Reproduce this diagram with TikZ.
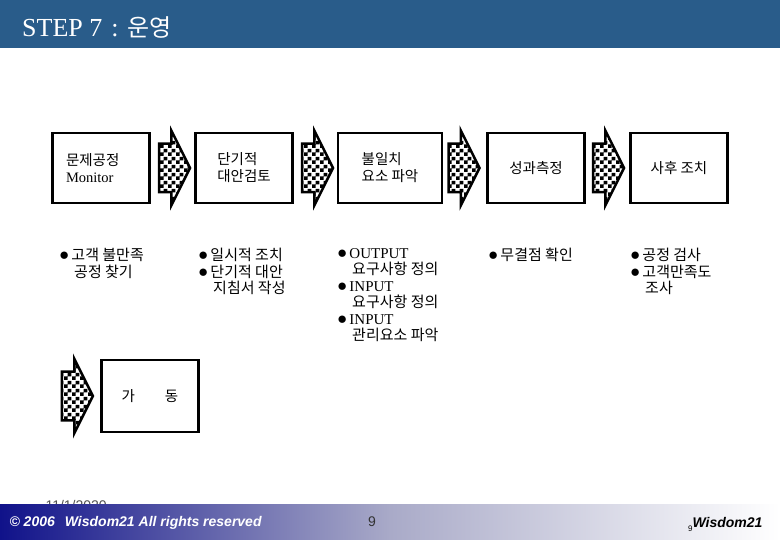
\documentclass[tikz,border=0pt]{standalone}
\usepackage{fontspec}
\setmainfont{Liberation Serif}
\setsansfont{Liberation Sans}
\newfontfamily\kr{Noto Sans CJK KR}
\usetikzlibrary{positioning,shapes.arrows,patterns}
\definecolor{TitleBlue}{HTML}{295C8A}
\definecolor{FootNavy}{HTML}{10128A}
\definecolor{FootMid}{HTML}{A9AAC8}
\definecolor{DateGray}{HTML}{505050}
\definecolor{PageGray}{HTML}{333333}
\pgfdeclarepatternformonly{bigchecker}{\pgfpointorigin}{\pgfqpoint{8pt}{8pt}}{\pgfqpoint{8pt}{8pt}}{
 \pgfpathrectangle{\pgfpointorigin}{\pgfqpoint{4pt}{4pt}}
 \pgfpathrectangle{\pgfqpoint{4pt}{4pt}}{\pgfqpoint{4pt}{4pt}}
 \pgfusepath{fill}}
\newcommand{\notebullet}{{\rmfamily\fontsize{17}{16.5}\selectfont ●}\hspace{2pt}}
\newcommand{\noteindent}{\hspace{15pt}}
\tikzset{
 stepbox/.style={draw=black, line width=2.5pt, minimum width=97pt, minimum height=70pt, align=left, inner sep=2pt, font=\kr\fontsize{14.5}{17}\selectfont},
 chevron/.style={single arrow, draw=black, line width=2.5pt, pattern=bigchecker, inner xsep=0pt, inner ysep=23pt, minimum height=31pt, single arrow head extend=13pt, single arrow tip angle=127},
 notes/.style={anchor=north west, align=left, inner sep=0pt, font=\kr\fontsize{15}{16.5}\selectfont}
}
\begin{document}
\begin{tikzpicture}[x=1pt,y=-1pt]
\useasboundingbox (0,0) rectangle (780,540);
\fill[TitleBlue] (0,0) rectangle (780,48);
\node[anchor=west, inner sep=0pt, text=white, font=\fontsize{26}{26}\selectfont] (title) at (22,27) {STEP 7\hspace{9pt}:\hspace{9pt}{\kr\fontsize{24}{24}\selectfont 운영}};
\node[stepbox, text width=70pt] (b1) at (101,168) {문제공정\\{\rmfamily Monitor}};
\node[stepbox] (b2) at (244,168) {단기적\\대안검토};
\node[stepbox, minimum width=104pt] (b3) at (390,168) {불일치\\요소 파악};
\node[stepbox] (b4) at (536,168) {성과측정};
\node[stepbox] (b5) at (679,168) {사후 조치};
\node[chevron, right=7pt of b1] (a1) {};
\node[chevron, right=7pt of b2] (a2) {};
\node[chevron, right=4pt of b3] (a3) {};
\node[chevron, right=6pt of b4] (a4) {};
\node[notes] (n1) at (59,248) {\notebullet 고객 불만족\\\noteindent 공정 찾기};
\node[notes] (n2) at (198,248) {\notebullet 일시적 조치\\\notebullet 단기적 대안\\\noteindent 지침서 작성};
\node[notes] (n3) at (337,248) {\notebullet{\rmfamily OUTPUT}\\\noteindent 요구사항 정의\\\notebullet{\rmfamily INPUT}\\\noteindent 요구사항 정의\\\notebullet{\rmfamily INPUT}\\\noteindent 관리요소 파악};
\node[notes] (n4) at (488,248) {\notebullet 무결점 확인};
\node[notes] (n5) at (630,248) {\notebullet 공정 검사\\\notebullet 고객만족도\\\noteindent 조사};
\node[stepbox, minimum height=72pt] (b6) at (150,396) {가\hspace{30pt}동};
\node[chevron, left=6pt of b6] (a5) {};
\node[anchor=west, text=DateGray, font=\sffamily\fontsize{14}{14}\selectfont] (date) at (42,505) {11/1/2020};
\fill[left color=FootNavy, right color=white, middle color=FootMid] (0,504) rectangle (780,540);
\node[anchor=west, text=white, font=\sffamily\bfseries\itshape\fontsize{14}{14}\selectfont] (copy) at (6,523) {© 2006\hspace{10pt}Wisdom21 All rights reserved};
\node[text=PageGray, font=\sffamily\fontsize{14}{14}\selectfont] (page) at (372,522) {9};
\node[anchor=east, font=\sffamily\bfseries\itshape\fontsize{14}{14}\selectfont] (brand) at (766,524) {{\mdseries\upshape\fontsize{8}{8}\selectfont\raisebox{-4pt}{9}}Wisdom21};
\end{tikzpicture}
\end{document}
